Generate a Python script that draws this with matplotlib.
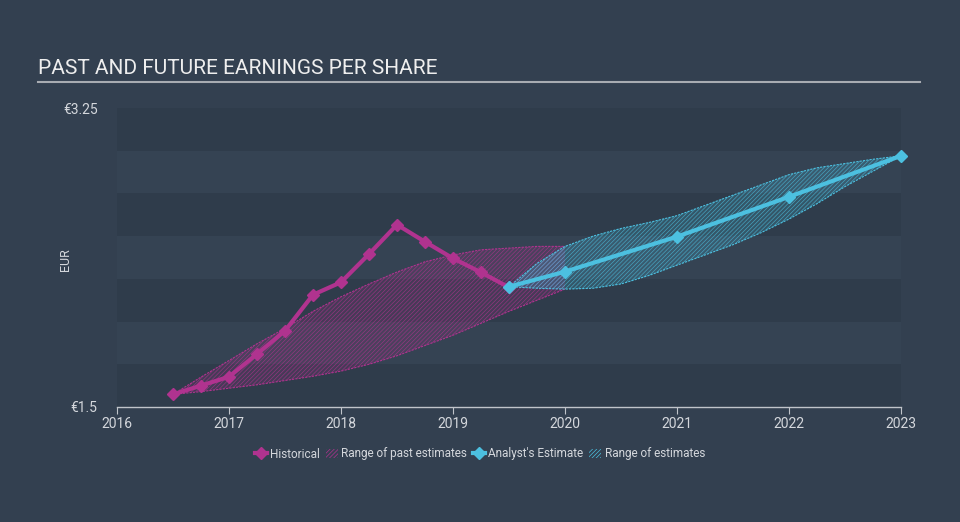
import matplotlib.pyplot as plt
from matplotlib.lines import Line2D
from matplotlib.patches import Patch

plt.rcParams['font.family'] = ['Roboto', 'DejaVu Sans']
plt.rcParams['hatch.linewidth'] = 0.5

# historical EPS, quarterly
hist_x = [2016.5, 2016.75, 2017.0, 2017.25, 2017.5, 2017.75, 2018.0,
          2018.25, 2018.5, 2018.75, 2019.0, 2019.25, 2019.5]
hist_y = [1.574, 1.625, 1.677, 1.81, 1.946, 2.157, 2.23,
          2.395, 2.567, 2.467, 2.37, 2.288, 2.20]

# range of past estimates
past_x = [2016.5, 2016.75, 2017.0, 2017.25, 2017.5, 2017.75, 2018.0, 2018.25,
          2018.5, 2018.75, 2019.0, 2019.25, 2019.5, 2019.75, 2020.0]
past_hi = [1.574, 1.675, 1.772, 1.87, 1.96, 2.06, 2.145, 2.22,
           2.29, 2.35, 2.39, 2.42, 2.43, 2.44, 2.44]
past_lo = [1.574, 1.59, 1.61, 1.63, 1.655, 1.68, 1.71, 1.75,
           1.80, 1.86, 1.92, 1.99, 2.06, 2.125, 2.19]

# analyst estimate
est_x = [2019.5, 2020.0, 2021.0, 2022.0, 2023.0]
est_y = [2.204, 2.292, 2.497, 2.73, 2.97]

# range of estimates
rng_x = [2019.5, 2019.75, 2020.0, 2020.25, 2020.5, 2020.75, 2021.0, 2021.25,
         2021.5, 2021.75, 2022.0, 2022.25, 2022.5, 2022.75, 2023.0]
rng_hi = [2.204, 2.34, 2.44, 2.50, 2.545, 2.58, 2.62, 2.68,
          2.74, 2.80, 2.86, 2.90, 2.925, 2.95, 2.97]
rng_lo = [2.204, 2.195, 2.19, 2.195, 2.22, 2.27, 2.33, 2.39,
          2.45, 2.52, 2.60, 2.69, 2.79, 2.88, 2.97]

bg = '#334050'
band_dark = '#2f3c4b'
band_light = '#354353'
mag = '#b0338f'
cyan = '#4cc0e0'
txt = '#d4d7dc'

fig = plt.figure(figsize=(9.6, 5.22), dpi=100, facecolor=bg)
ax = fig.add_axes([117 / 960, 1 - 407 / 522, 784 / 960, 299 / 522])
ax.set_facecolor(bg)

levels = [1.5, 1.75, 2.0, 2.25, 2.5, 2.75, 3.0, 3.25]
for i in range(len(levels) - 1):
    c = band_dark if i % 2 == 0 else band_light
    ax.axhspan(levels[i], levels[i + 1], color=c, lw=0, zorder=0)

ax.fill_between(past_x, past_lo, past_hi, facecolor=mag, alpha=0.18, lw=0, zorder=1)
ax.fill_between(past_x, past_lo, past_hi, facecolor='none', edgecolor=mag,
                hatch='////////', lw=0, alpha=0.7, zorder=1)
ax.plot(past_x, past_hi, color=mag, lw=0.8, ls=(0, (2, 1)), zorder=2)
ax.plot(past_x, past_lo, color=mag, lw=0.8, ls=(0, (2, 1)), zorder=2)

ax.fill_between(rng_x, rng_lo, rng_hi, facecolor=cyan, alpha=0.2, lw=0, zorder=1)
ax.fill_between(rng_x, rng_lo, rng_hi, facecolor='none', edgecolor=cyan,
                hatch='////////', lw=0, alpha=0.7, zorder=1)
ax.plot(rng_x, rng_hi, color=cyan, lw=0.8, ls=(0, (2, 1)), zorder=2)
ax.plot(rng_x, rng_lo, color=cyan, lw=0.8, ls=(0, (2, 1)), zorder=2)

ax.plot(hist_x, hist_y, color=mag, lw=3, marker='D', ms=6, zorder=4, clip_on=False)
ax.plot(est_x, est_y, color=cyan, lw=3, marker='D', ms=6, zorder=5, clip_on=False)

ax.set_xlim(2016, 2023)
ax.set_ylim(1.5, 3.25)
ax.set_xticks(range(2016, 2024))
ax.set_xticklabels([str(y) for y in range(2016, 2024)])
ax.set_yticks([1.5, 3.25])
ax.set_yticklabels(['€1.5', '€3.25'])
ax.tick_params(axis='x', colors='#c0c4ca', labelcolor=txt, labelsize=10, length=5, pad=2)
ax.tick_params(axis='y', length=0, labelcolor=txt, labelsize=10, pad=14)
for s in ['top', 'right', 'left']:
    ax.spines[s].set_visible(False)
ax.spines['bottom'].set_color('#c0c4ca')
ax.spines['bottom'].set_linewidth(1)

fig.text(65 / 960, 1 - 260 / 522, 'EUR', rotation=90, color=txt, fontsize=9,
         ha='center', va='center')

fig.text(38 / 960, 1 - 68 / 522, 'PAST AND FUTURE EARNINGS PER SHARE', color='#eeeeee',
         fontsize=15, ha='left', va='center')
fig.add_artist(Line2D([38 / 960, 920 / 960], [1 - 82 / 522, 1 - 82 / 522],
                      color='#a8acb2', lw=1.5))

handles = [
    Line2D([], [], color=mag, lw=3, marker='D', ms=6),
    Patch(facecolor='none', edgecolor=mag, hatch='////////', lw=0),
    Line2D([], [], color=cyan, lw=3, marker='D', ms=6),
    Patch(facecolor='none', edgecolor=cyan, hatch='////////', lw=0),
]
labels = ['Historical', 'Range of past estimates', "Analyst's Estimate", 'Range of estimates']
leg = fig.legend(handles, labels, loc='center', bbox_to_anchor=(0.5, 1 - 454 / 522),
                 ncol=4, frameon=False, fontsize=8.5, handlelength=1.0,
                 handletextpad=0.3, columnspacing=0.5)
for t in leg.get_texts():
    t.set_color(txt)

fig.savefig('out.png', dpi=100, facecolor=bg)
